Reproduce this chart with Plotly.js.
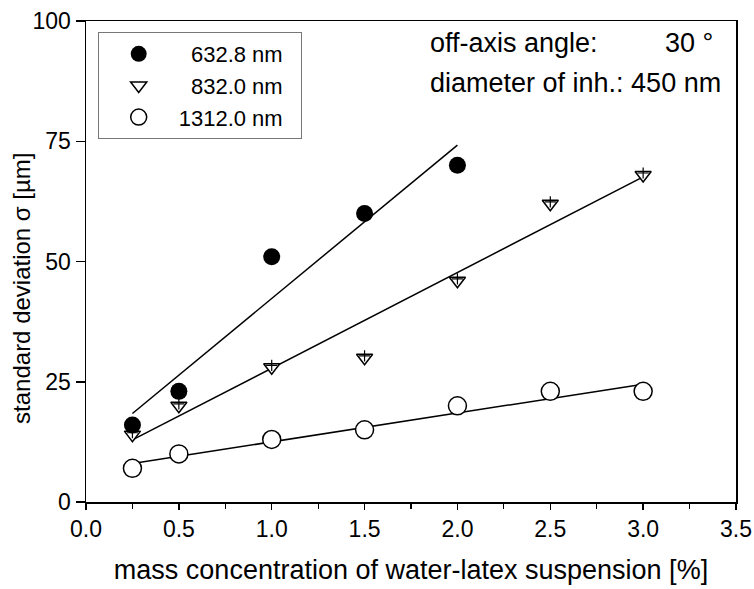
<!DOCTYPE html>
<html>
<head>
<meta charset="utf-8">
<script src="https://cdn.plot.ly/plotly-3.0.1.min.js"></script>
<style>html,body{margin:0;padding:0;background:#fff;}#chart{width:754px;height:589px;}</style>
</head>
<body>
<div id="chart"></div>
<script>
// Data
const xA = [0.25, 0.5, 1.0, 1.5, 2.0];
const yA = [16, 23, 51, 60, 70];           // 632.8 nm
const xB = [0.25, 0.5, 1.0, 1.5, 2.0, 2.5, 3.0];
const yB = [14, 20, 28, 30, 46, 62, 68];   // 832.0 nm
const xC = [0.25, 0.5, 1.0, 1.5, 2.0, 2.5, 3.0];
const yC = [7, 10, 13, 15, 20, 23, 23];    // 1312.0 nm
// fitted lines (end points)
const fitAx = [0.25, 2.0];  const fitAy = [18.4, 74.2];
const fitBx = [0.25, 3.0];  const fitBy = [12.9, 67.6];
const fitCx = [0.25, 3.0];  const fitCy = [8.0, 24.5];
const names = ['\u2007632.8 nm\u2007', '\u2007832.0 nm\u2007', '1312.0 nm\u2007'];
const xTickVals = [0, 0.5, 1.0, 1.5, 2.0, 2.5, 3.0, 3.5];
const yTickVals = [0, 25, 50, 75, 100];

const FONT = 'Arial, "Liberation Sans", sans-serif';
const lineStyle = {color: 'black', width: 1.5};

const traces = [
  {x: fitAx, y: fitAy, mode: 'lines', line: lineStyle, showlegend: false, hoverinfo: 'skip'},
  {x: fitBx, y: fitBy, mode: 'lines', line: lineStyle, showlegend: false, hoverinfo: 'skip'},
  {x: fitCx, y: fitCy, mode: 'lines', line: lineStyle, showlegend: false, hoverinfo: 'skip'},
  {x: xB, y: yB, mode: 'markers', name: names[1], legendrank: 2,
   marker: {symbol: 'triangle-down', size: 14, color: 'white', line: {color: 'black', width: 1.5}}},
  {x: xB, y: yB.map(v => v + 0.4), mode: 'markers', showlegend: false, hoverinfo: 'skip',
   marker: {symbol: 'cross-thin-open', size: 8, color: 'black', line: {color: 'black', width: 1.2}}},
  {x: xC, y: yC, mode: 'markers', name: names[2], legendrank: 3,
   marker: {symbol: 'circle', size: 18, color: 'white', line: {color: 'black', width: 1.5}}},
  {x: xA, y: yA, mode: 'markers', name: names[0], legendrank: 1,
   marker: {symbol: 'circle', size: 17, color: 'black', line: {color: 'black', width: 0}}}
];

const layout = {
  width: 754, height: 589,
  margin: {l: 86, r: 18, t: 21, b: 87},
  paper_bgcolor: 'white', plot_bgcolor: 'white',
  font: {family: FONT, color: 'black', size: 23},
  showlegend: true,
  legend: {x: 0.018, y: 0.977, xanchor: 'left', yanchor: 'top',
           bgcolor: 'white', bordercolor: '#777', borderwidth: 1,
           font: {size: 22, family: FONT}, itemwidth: 70, tracegroupgap: 0},
  xaxis: {range: [0, 3.5], tickvals: xTickVals, tickformat: '.1f',
          showline: true, linecolor: 'black', linewidth: 1.5, mirror: true,
          ticks: 'outside', ticklen: 6, tickwidth: 1.5, tickcolor: 'black',
          showgrid: false, zeroline: false,
          minor: {dtick: 0.25, ticks: 'outside', ticklen: 5, tickwidth: 1.2, tickcolor: 'black', showgrid: false},
          tickfont: {size: 23},
          title: {text: 'mass concentration of water-latex suspension [%]', font: {size: 27}, standoff: 19}},
  yaxis: {range: [0, 100], tickvals: yTickVals,
          showline: true, linecolor: 'black', linewidth: 1.5, mirror: true,
          ticks: 'outside', ticklen: 9, tickwidth: 1.5, tickcolor: 'black',
          showgrid: false, zeroline: false,
          tickfont: {size: 23}},
  annotations: [
    {xref: 'paper', yref: 'paper', x: -0.0985, y: 0.445, xanchor: 'center', yanchor: 'middle',
     textangle: -90, text: 'standard deviation \u03c3 [\u00b5m]', showarrow: false, font: {size: 24}},
    {xref: 'paper', yref: 'paper', x: 0.526, y: 0.954, xanchor: 'left', yanchor: 'middle',
     text: 'off-axis angle:', showarrow: false, font: {size: 27}},
    {xref: 'paper', yref: 'paper', x: 0.967, y: 0.954, xanchor: 'right', yanchor: 'middle',
     text: '30 \u00b0', showarrow: false, font: {size: 27}},
    {xref: 'paper', yref: 'paper', x: 0.526, y: 0.871, xanchor: 'left', yanchor: 'middle',
     text: 'diameter of inh.: 450 nm', showarrow: false, font: {size: 27}}
  ]
};

Plotly.newPlot('chart', traces, layout, {displayModeBar: false, staticPlot: true});
</script>
</body>
</html>
